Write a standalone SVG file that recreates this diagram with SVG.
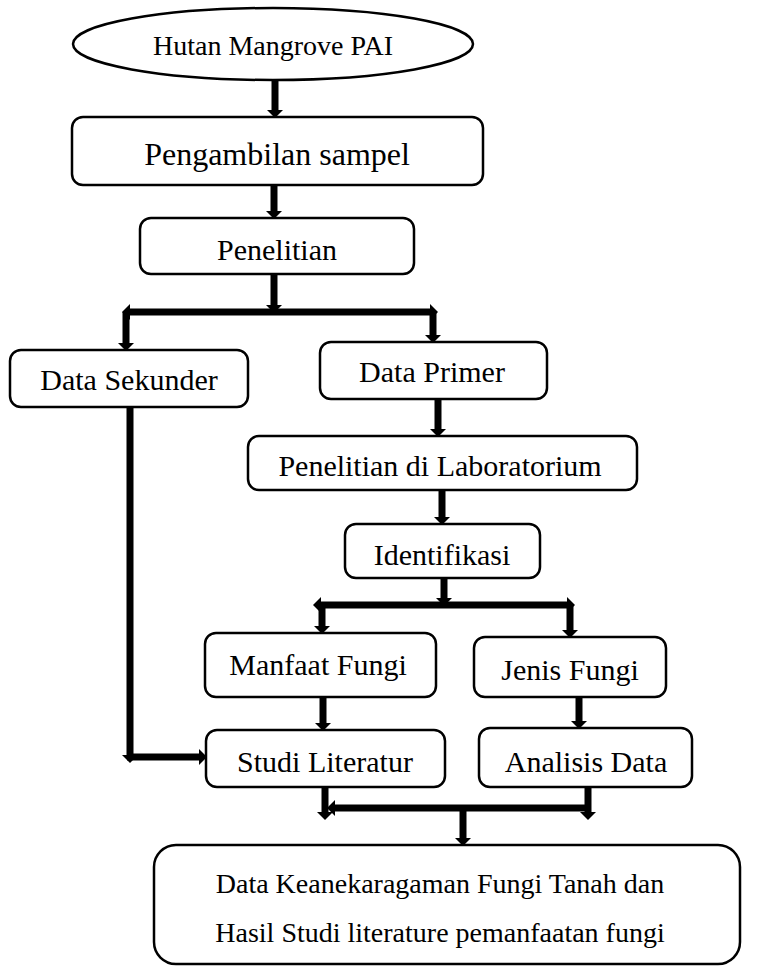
<svg xmlns="http://www.w3.org/2000/svg" width="776" height="968" viewBox="0 0 776 968">
<style>
.box{fill:#fff;stroke:#000;stroke-width:2.5}
.t{font-family:"Liberation Serif","Times New Roman",serif;font-size:30px;fill:#000;text-anchor:middle}
.c{fill:none;stroke:#000;stroke-width:7;stroke-linecap:butt}
</style>
<defs>
<marker id="ah" viewBox="0 0 8 16" refX="0" refY="8" markerWidth="8" markerHeight="16" markerUnits="userSpaceOnUse" orient="auto-start-reverse">
<path d="M0 0 L8 8 L0 16 Z" fill="#000"/>
</marker>
</defs>
<rect width="776" height="968" fill="#fff"/>
<g id="connectors">
<path class="c" d="M275 80 V110" marker-end="url(#ah)"/>
<path class="c" d="M274 185 V211" marker-end="url(#ah)"/>
<path class="c" d="M274 274 V305" marker-end="url(#ah)"/>
<path class="c" d="M130 312 H430" marker-start="url(#ah)" marker-end="url(#ah)"/>
<path class="c" d="M126 312 V343" marker-end="url(#ah)"/>
<path class="c" d="M433 312 V335" marker-end="url(#ah)"/>
<path class="c" d="M438 399 V429" marker-end="url(#ah)"/>
<path class="c" d="M442 490 V517" marker-end="url(#ah)"/>
<path class="c" d="M444 578 V598" marker-end="url(#ah)"/>
<path class="c" d="M321 605 H567" marker-start="url(#ah)" marker-end="url(#ah)"/>
<path class="c" d="M322 605 V626" marker-end="url(#ah)"/>
<path class="c" d="M570 605 V630" marker-end="url(#ah)"/>
<path class="c" d="M323 697 V723" marker-end="url(#ah)"/>
<path class="c" d="M579 697 V721" marker-end="url(#ah)"/>
<path class="c" d="M130 407 V755" marker-end="url(#ah)"/>
<path class="c" d="M127 757 H199" marker-end="url(#ah)"/>
<path class="c" d="M325 787 V812" marker-end="url(#ah)"/>
<path class="c" d="M588 787 V812" marker-end="url(#ah)"/>
<path class="c" d="M335 808 H591" marker-start="url(#ah)"/>
<path class="c" d="M463 808 V838" marker-end="url(#ah)"/>
</g>
<g id="hutan">
<ellipse class="box" cx="273" cy="44" rx="200" ry="36"/>
<text class="t" x="273" y="55" style="font-size:28px">Hutan Mangrove PAI</text>
</g>
<g id="pengambilan">
<rect class="box" x="72" y="117" width="411" height="68" rx="11"/>
<text class="t" x="277" y="165" style="font-size:32px">Pengambilan sampel</text>
</g>
<g id="penelitian">
<rect class="box" x="140" y="218" width="274" height="56" rx="11"/>
<text class="t" x="277" y="260">Penelitian</text>
</g>
<g id="sekunder">
<rect class="box" x="10" y="350" width="238" height="57" rx="11"/>
<text class="t" x="129" y="390">Data Sekunder</text>
</g>
<g id="primer">
<rect class="box" x="320" y="342" width="227" height="57" rx="11"/>
<text class="t" x="432" y="382">Data Primer</text>
</g>
<g id="lab">
<rect class="box" x="248" y="436" width="389" height="54" rx="11"/>
<text class="t" x="440" y="476">Penelitian di Laboratorium</text>
</g>
<g id="identifikasi">
<rect class="box" x="345" y="524" width="195" height="54" rx="11"/>
<text class="t" x="442" y="565">Identifikasi</text>
</g>
<g id="manfaat">
<rect class="box" x="205" y="633" width="231" height="64" rx="11"/>
<text class="t" x="318" y="675">Manfaat Fungi</text>
</g>
<g id="jenis">
<rect class="box" x="474" y="637" width="192" height="60" rx="11"/>
<text class="t" x="570" y="680">Jenis Fungi</text>
</g>
<g id="studi">
<rect class="box" x="206" y="730" width="239" height="57" rx="11"/>
<text class="t" x="325" y="772">Studi Literatur</text>
</g>
<g id="analisis">
<rect class="box" x="479" y="728" width="213" height="59" rx="11"/>
<text class="t" x="586" y="772">Analisis Data</text>
</g>
<g id="hasil">
<rect class="box" x="154" y="845" width="586" height="119" rx="22"/>
<text class="t" x="440" y="893" style="font-size:28px">Data Keanekaragaman Fungi Tanah dan</text>
<text class="t" x="440" y="942" style="font-size:28px">Hasil Studi literature pemanfaatan fungi</text>
</g>
</svg>
